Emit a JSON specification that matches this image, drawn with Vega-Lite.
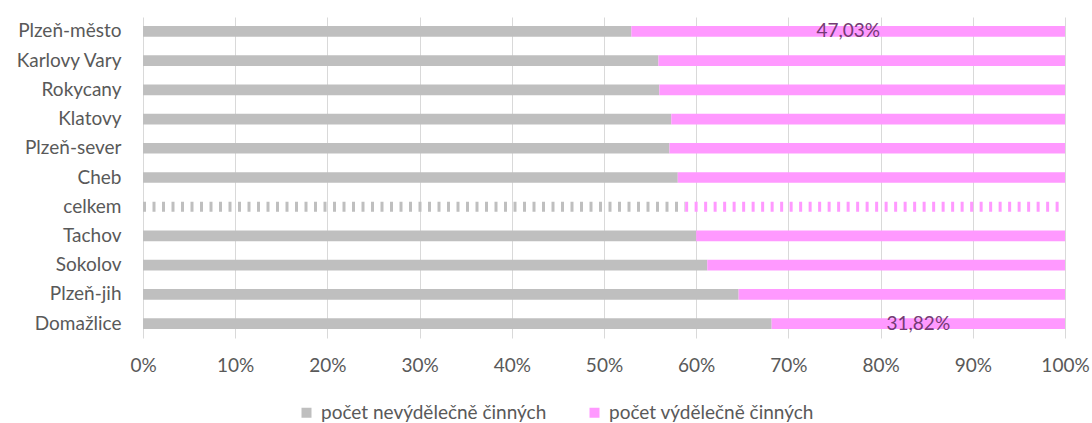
{
  "$schema": "https://vega.github.io/schema/vega-lite/v6.json",
  "width": 922,
  "height": 321,
  "autosize": {"type": "none"},
  "padding": {"left": 143, "top": 17, "right": 27, "bottom": 85},
  "background": "white",
  "config": {
    "view": {"stroke": null},
    "font": "Lato",
    "axis": {"labelFont": "Lato", "labelColor": "#595959", "labelFontSize": 19},
    "legend": {"labelFont": "Lato"}
  },
  "data": {
    "values": [
      {"okres": "Plzeň-město", "typ": "počet nevýdělečně činných", "pct": 52.97, "label": ""},
      {"okres": "Plzeň-město", "typ": "počet výdělečně činných", "pct": 47.03, "label": "47,03%"},
      {"okres": "Karlovy Vary", "typ": "počet nevýdělečně činných", "pct": 55.9, "label": ""},
      {"okres": "Karlovy Vary", "typ": "počet výdělečně činných", "pct": 44.1, "label": ""},
      {"okres": "Rokycany", "typ": "počet nevýdělečně činných", "pct": 56.0, "label": ""},
      {"okres": "Rokycany", "typ": "počet výdělečně činných", "pct": 44.0, "label": ""},
      {"okres": "Klatovy", "typ": "počet nevýdělečně činných", "pct": 57.3, "label": ""},
      {"okres": "Klatovy", "typ": "počet výdělečně činných", "pct": 42.7, "label": ""},
      {"okres": "Plzeň-sever", "typ": "počet nevýdělečně činných", "pct": 57.1, "label": ""},
      {"okres": "Plzeň-sever", "typ": "počet výdělečně činných", "pct": 42.9, "label": ""},
      {"okres": "Cheb", "typ": "počet nevýdělečně činných", "pct": 58.0, "label": ""},
      {"okres": "Cheb", "typ": "počet výdělečně činných", "pct": 42.0, "label": ""},
      {"okres": "celkem", "typ": "počet nevýdělečně činných", "pct": 58.8, "label": ""},
      {"okres": "celkem", "typ": "počet výdělečně činných", "pct": 41.2, "label": ""},
      {"okres": "Tachov", "typ": "počet nevýdělečně činných", "pct": 60.0, "label": ""},
      {"okres": "Tachov", "typ": "počet výdělečně činných", "pct": 40.0, "label": ""},
      {"okres": "Sokolov", "typ": "počet nevýdělečně činných", "pct": 61.2, "label": ""},
      {"okres": "Sokolov", "typ": "počet výdělečně činných", "pct": 38.8, "label": ""},
      {"okres": "Plzeň-jih", "typ": "počet nevýdělečně činných", "pct": 64.6, "label": ""},
      {"okres": "Plzeň-jih", "typ": "počet výdělečně činných", "pct": 35.4, "label": ""},
      {"okres": "Domažlice", "typ": "počet nevýdělečně činných", "pct": 68.18, "label": ""},
      {"okres": "Domažlice", "typ": "počet výdělečně činných", "pct": 31.82, "label": "31,82%"}
    ]
  },
  "transform": [
    {"calculate": "datum.typ === 'počet nevýdělečně činných' ? 0 : 1", "as": "ord"},
    {"stack": "pct", "groupby": ["okres"], "sort": [{"field": "ord", "order": "ascending"}], "as": ["x0", "x1"]},
    {"calculate": "(datum.x0 + datum.x1) / 2", "as": "xmid"}
  ],
  "encoding": {
    "y": {
      "field": "okres",
      "type": "nominal",
      "sort": ["Plzeň-město", "Karlovy Vary", "Rokycany", "Klatovy", "Plzeň-sever", "Cheb", "celkem", "Tachov", "Sokolov", "Plzeň-jih", "Domažlice"],
      "scale": {"paddingInner": 0.634, "paddingOuter": 0.307},
      "axis": {"title": null, "ticks": false, "domain": false, "labelPadding": 22, "grid": false, "labelFontSize": 19}
    }
  },
  "layer": [
    {
      "mark": {"type": "bar"},
      "transform": [{"filter": "datum.okres !== 'celkem'"}],
      "encoding": {
        "x": {
          "field": "x0",
          "type": "quantitative",
          "scale": {"domain": [0, 100], "nice": false},
          "axis": {
            "title": null,
            "values": [0, 10, 20, 30, 40, 50, 60, 70, 80, 90, 100],
            "labelExpr": "datum.value + '%'",
            "ticks": false,
            "domain": false,
            "grid": true,
            "gridColor": "#D9D9D9",
            "gridWidth": 1,
            "labelPadding": 18,
            "labelFontSize": 19,
            "labelFlush": false,
            "labelOverlap": false
          }
        },
        "x2": {"field": "x1"},
        "color": {
          "field": "typ",
          "type": "nominal",
          "scale": {"domain": ["počet nevýdělečně činných", "počet výdělečně činných"], "range": ["#BFBFBF", "#FF99FF"]},
          "legend": {
            "title": null,
            "orient": "none",
            "direction": "horizontal",
            "legendX": 154,
            "legendY": 386,
            "symbolType": "square",
            "symbolSize": 100,
            "symbolStrokeWidth": 0,
            "labelFontSize": 19,
            "labelColor": "#595959",
            "labelLimit": 400,
            "columnPadding": 38,
            "symbolOffset": 0,
            "labelOffset": 5
          }
        }
      }
    },
    {
      "mark": {"type": "rule", "strokeWidth": 10, "strokeDash": [3, 6.5], "strokeCap": "butt"},
      "transform": [{"filter": "datum.okres === 'celkem'"}],
      "encoding": {
        "x": {"field": "x0", "type": "quantitative"},
        "x2": {"field": "x1"},
        "color": {"field": "typ", "type": "nominal", "legend": null}
      }
    },
    {
      "mark": {"type": "text", "fontSize": 19, "color": "#743A74", "baseline": "middle", "align": "center"},
      "transform": [{"filter": "datum.label !== ''"}],
      "encoding": {
        "x": {"field": "xmid", "type": "quantitative"},
        "text": {"field": "label"}
      }
    }
  ]
}
